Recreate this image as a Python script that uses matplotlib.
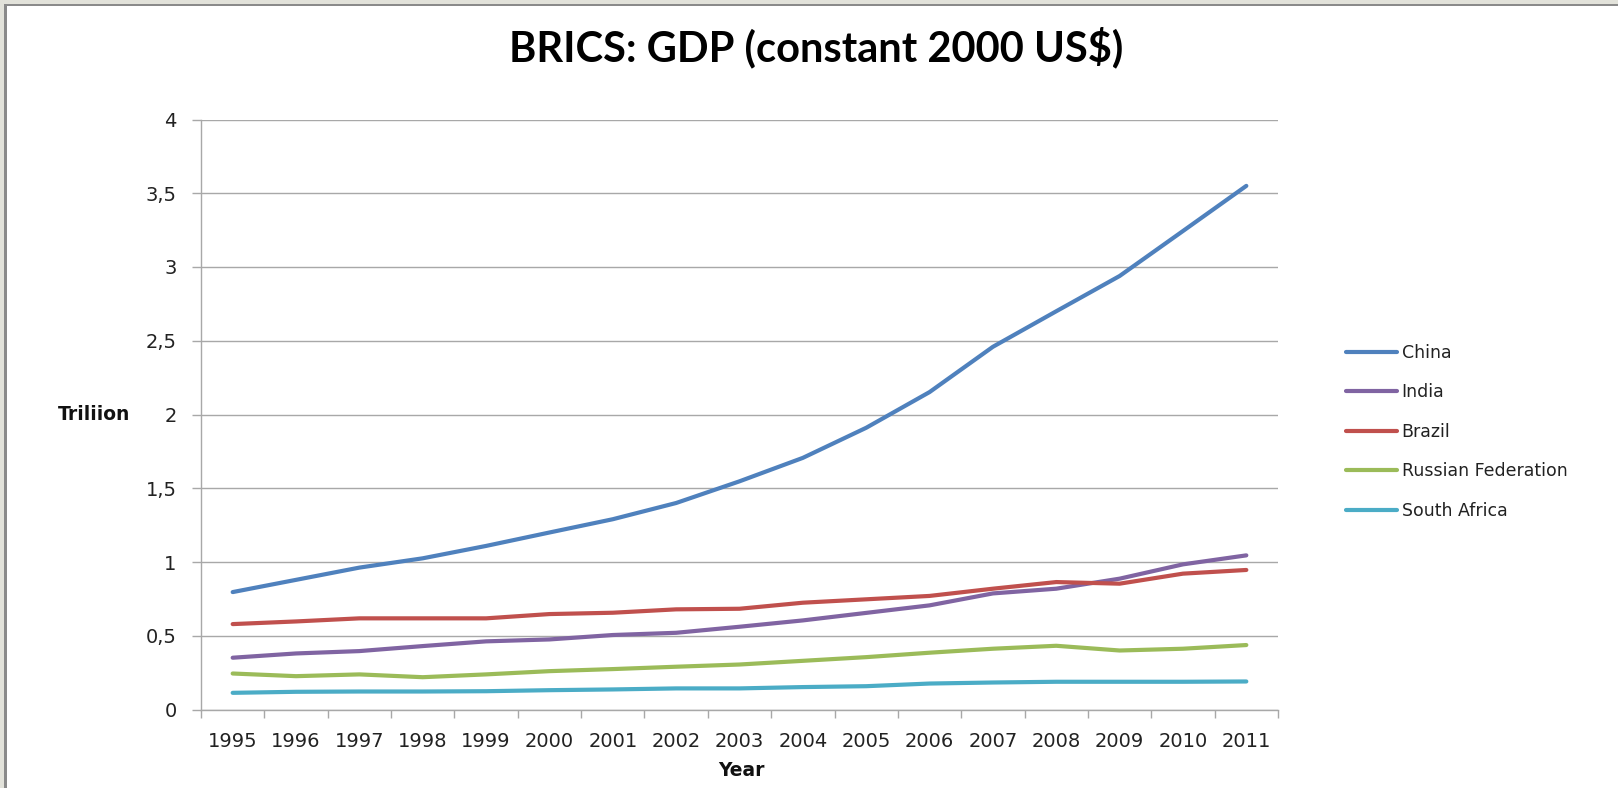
import matplotlib
matplotlib.use("Agg")
import matplotlib.pyplot as plt
from matplotlib.patches import Rectangle

years = [1995, 1996, 1997, 1998, 1999, 2000, 2001, 2002, 2003,
         2004, 2005, 2006, 2007, 2008, 2009, 2010, 2011]

# GDP, constant 2000 US$, trillions
china = [0.796, 0.879, 0.962, 1.025, 1.109, 1.200, 1.290, 1.400, 1.547,
         1.706, 1.910, 2.152, 2.459, 2.700, 2.939, 3.244, 3.550]
india = [0.351, 0.380, 0.396, 0.430, 0.462, 0.475, 0.505, 0.520, 0.561,
         0.604, 0.655, 0.706, 0.787, 0.819, 0.887, 0.984, 1.045]
brazil = [0.579, 0.597, 0.618, 0.618, 0.618, 0.647, 0.656, 0.679, 0.683,
          0.724, 0.747, 0.770, 0.819, 0.864, 0.853, 0.921, 0.946]
russia = [0.244, 0.226, 0.238, 0.219, 0.238, 0.260, 0.274, 0.290, 0.305,
          0.330, 0.355, 0.385, 0.412, 0.432, 0.400, 0.412, 0.437]
south_africa = [0.113, 0.120, 0.122, 0.122, 0.124, 0.131, 0.136, 0.143, 0.143,
                0.152, 0.158, 0.176, 0.183, 0.188, 0.188, 0.188, 0.190]

series = [("China", china, "#4F81BD"),
          ("India", india, "#8064A2"),
          ("Brazil", brazil, "#C0504D"),
          ("Russian Federation", russia, "#9BBB59"),
          ("South Africa", south_africa, "#4BACC6")]

ytick_vals = [0, 0.5, 1, 1.5, 2, 2.5, 3, 3.5, 4]
ytick_labels = ["0", "0,5", "1", "1,5", "2", "2,5", "3", "3,5", "4"]

W, H = 1618, 788
fig = plt.figure(figsize=(W / 100, H / 100), dpi=100)
fig.patch.set_facecolor("white")

# window frame along the top and left edges
fig.add_artist(Rectangle((0, 0), 4 / W, 1, transform=fig.transFigure,
                         color="#e2e2da", lw=0))
fig.add_artist(Rectangle((0, 1 - 3.5 / H), 1, 3.5 / H, transform=fig.transFigure,
                         color="#e2e2da", lw=0))
fig.add_artist(Rectangle((4 / W, 0), 2.5 / W, 1 - 3.5 / H, transform=fig.transFigure,
                         color="#8a8a8a", lw=0))
fig.add_artist(Rectangle((4 / W, 1 - 6 / H), 1, 2.5 / H, transform=fig.transFigure,
                         color="#8a8a8a", lw=0))

ax = fig.add_axes([201 / W, 1 - 709.5 / H, (1278 - 201) / W, (709.5 - 119.5) / H])

x = list(range(len(years)))
for name, vals, color in series:
    ax.plot(x, vals, color=color, lw=3, label=name, solid_capstyle="round",
            solid_joinstyle="round")

ax.set_xlim(-0.5, len(years) - 0.5)
ax.set_ylim(0, 4)

grid_col = "#a8a8a8"
ax.set_yticks(ytick_vals)
ax.set_yticklabels(ytick_labels)
ax.yaxis.grid(True, color=grid_col, lw=1)
ax.set_axisbelow(True)

# labels on category centres, tick marks on category boundaries
ax.set_xticks(x)
ax.set_xticklabels([str(y) for y in years])
ax.set_xticks([i - 0.5 for i in range(len(years) + 1)], minor=True)
ax.tick_params(axis="x", which="major", length=0, pad=16)
ax.tick_params(axis="x", which="minor", length=6, color=grid_col, width=1)
ax.tick_params(axis="y", length=6.5, color=grid_col, width=1, pad=11)
ax.tick_params(labelsize=14, labelcolor="#222222")

for side in ("top", "right"):
    ax.spines[side].set_visible(False)
for side in ("left", "bottom"):
    ax.spines[side].set_color(grid_col)
    ax.spines[side].set_linewidth(1)

fig.text(94 / W, 1 - 415 / H, "Triliion", ha="center", va="center",
         fontsize=13.5, fontweight="bold", color="#111111")
fig.text(741 / W, 1 - 771 / H, "Year", ha="center", va="center",
         fontsize=13.5, fontweight="bold", color="#111111")

fig.text(816 / W, 1 - 47 / H, "BRICS: GDP (constant 2000 US$)", ha="center",
         va="center", fontsize=30, fontweight="bold", family="Lato", color="black")

leg = ax.legend(loc="center left", bbox_to_anchor=(1346 / W, 1 - 431.7 / H),
                bbox_transform=fig.transFigure, frameon=False, fontsize=12.5,
                handlelength=2.95, handletextpad=0.25, labelspacing=1.24,
                borderaxespad=0, borderpad=0)
for t in leg.get_texts():
    t.set_color("#222222")

fig.savefig("out.png", dpi=100)
